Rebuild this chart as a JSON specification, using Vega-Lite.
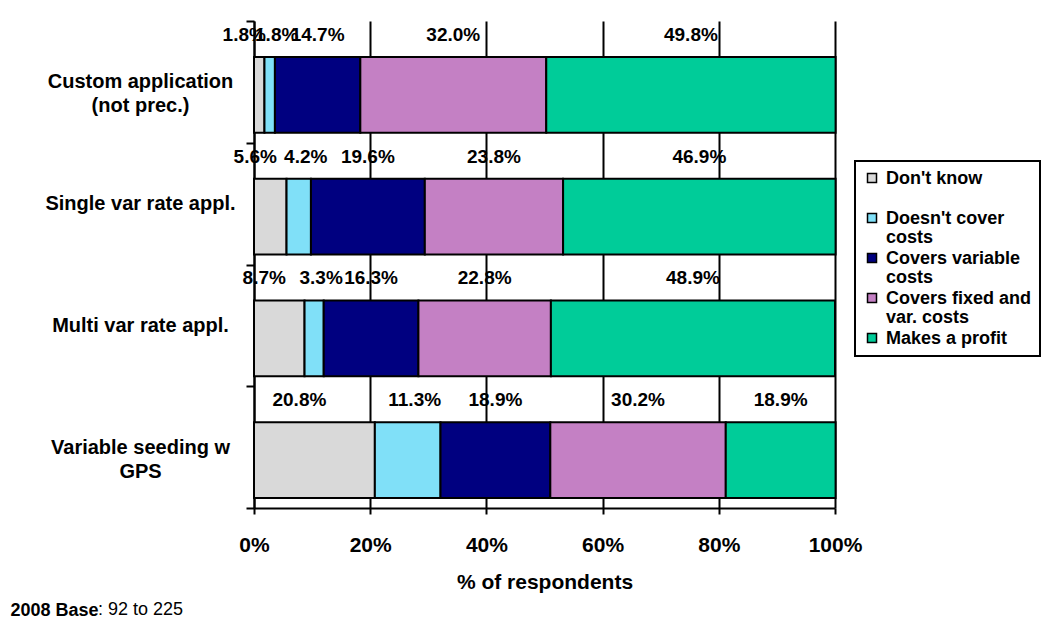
{
  "$schema": "https://vega.github.io/schema/vega-lite/v6.json",
  "width": 581,
  "height": 487,
  "autosize": {"type": "none"},
  "padding": {"left": 254, "top": 21, "right": 225, "bottom": 121},
  "background": "white",
  "data": {
    "values": [
      {"item": "Custom application (not prec.)", "series": "Don't know", "k": 1, "pct": 0.018},
      {"item": "Custom application (not prec.)", "series": "Doesn't cover costs", "k": 2, "pct": 0.018},
      {"item": "Custom application (not prec.)", "series": "Covers variable costs", "k": 3, "pct": 0.147},
      {"item": "Custom application (not prec.)", "series": "Covers fixed and var. costs", "k": 4, "pct": 0.32},
      {"item": "Custom application (not prec.)", "series": "Makes a profit", "k": 5, "pct": 0.498},
      {"item": "Single var rate appl.", "series": "Don't know", "k": 1, "pct": 0.056},
      {"item": "Single var rate appl.", "series": "Doesn't cover costs", "k": 2, "pct": 0.042},
      {"item": "Single var rate appl.", "series": "Covers variable costs", "k": 3, "pct": 0.196},
      {"item": "Single var rate appl.", "series": "Covers fixed and var. costs", "k": 4, "pct": 0.238},
      {"item": "Single var rate appl.", "series": "Makes a profit", "k": 5, "pct": 0.469},
      {"item": "Multi var rate appl.", "series": "Don't know", "k": 1, "pct": 0.087},
      {"item": "Multi var rate appl.", "series": "Doesn't cover costs", "k": 2, "pct": 0.033},
      {"item": "Multi var rate appl.", "series": "Covers variable costs", "k": 3, "pct": 0.163},
      {"item": "Multi var rate appl.", "series": "Covers fixed and var. costs", "k": 4, "pct": 0.228},
      {"item": "Multi var rate appl.", "series": "Makes a profit", "k": 5, "pct": 0.489},
      {"item": "Variable seeding w GPS", "series": "Don't know", "k": 1, "pct": 0.208},
      {"item": "Variable seeding w GPS", "series": "Doesn't cover costs", "k": 2, "pct": 0.113},
      {"item": "Variable seeding w GPS", "series": "Covers variable costs", "k": 3, "pct": 0.189},
      {"item": "Variable seeding w GPS", "series": "Covers fixed and var. costs", "k": 4, "pct": 0.302},
      {"item": "Variable seeding w GPS", "series": "Makes a profit", "k": 5, "pct": 0.189}
    ]
  },
  "transform": [
    {"stack": "pct", "groupby": ["item"], "sort": [{"field": "k", "order": "ascending"}], "as": ["x0", "x1"]}
  ],
  "title": {
    "text": ": 92 to 225",
    "orient": "bottom",
    "anchor": "start",
    "frame": "group",
    "dx": -156,
    "offset": -18,
    "font": "Liberation Sans",
    "fontSize": 18,
    "fontWeight": "normal",
    "color": "black"
  },
  "encoding": {
    "y": {
      "field": "item",
      "type": "nominal",
      "sort": ["Custom application (not prec.)", "Single var rate appl.", "Multi var rate appl.", "Variable seeding w GPS"],
      "scale": {"paddingInner": 0, "paddingOuter": 0},
      "axis": {
        "title": "2008 Base",
        "titleX": -244,
        "titleY": 594,
        "titleAngle": 0,
        "titleAlign": "left",
        "titleBaseline": "alphabetic",
        "titleFont": "Liberation Sans",
        "titleFontSize": 18,
        "titleFontWeight": "bold",
        "titleColor": "black",
        "grid": false,
        "tickBand": "extent",
        "tickSize": 8,
        "tickColor": "black",
        "tickWidth": 2,
        "domainColor": "black",
        "domainWidth": 2,
        "labelFont": "Liberation Sans",
        "labelFontSize": 20,
        "labelFontWeight": "bold",
        "labelColor": "black",
        "labelAlign": "center",
        "labelBaseline": "middle",
        "labelPadding": 106,
        "labelLimit": 300,
        "labelLineHeight": 24,
        "labelExpr": "datum.value == 'Custom application (not prec.)' ? ['Custom application', '(not prec.)'] : datum.value == 'Variable seeding w GPS' ? ['Variable seeding w', 'GPS'] : datum.value"
      }
    }
  },
  "layer": [
    {
      "mark": {"type": "bar", "height": {"band": 0.624}, "yOffset": 13, "stroke": "black", "strokeWidth": 2},
      "encoding": {
        "x": {
          "field": "x0",
          "type": "quantitative",
          "scale": {"domain": [0, 1], "nice": false},
          "axis": {
            "values": [0, 0.2, 0.4, 0.6, 0.8, 1],
            "format": ".0%",
            "grid": true,
            "gridColor": "black",
            "gridWidth": 2,
            "gridOpacity": 1,
            "tickSize": 6,
            "tickColor": "black",
            "tickWidth": 2,
            "domainColor": "black",
            "domainWidth": 2,
            "labelFont": "Liberation Sans",
            "labelFontSize": 21,
            "labelFontWeight": "bold",
            "labelColor": "black",
            "labelPadding": 20,
            "labelFlush": false,
            "title": "% of respondents",
            "titleFont": "Liberation Sans",
            "titleFontSize": 21,
            "titleFontWeight": "bold",
            "titleColor": "black",
            "titlePadding": 16
          }
        },
        "x2": {"field": "x1"},
        "color": {
          "field": "series",
          "type": "nominal",
          "scale": {
            "domain": ["Don't know", "Doesn't cover costs", "Covers variable costs", "Covers fixed and var. costs", "Makes a profit"],
            "range": ["#d9d9d9", "#80e0f8", "#000080", "#c480c4", "#00cc99"]
          },
          "legend": {
            "title": null,
            "orient": "none",
            "legendX": 601,
            "legendY": 140,
            "direction": "vertical",
            "padding": 8,
            "strokeColor": "black",
            "symbolType": "square",
            "symbolSize": 81,
            "symbolStrokeColor": "black",
            "symbolStrokeWidth": 1.5,
            "symbolOpacity": 1,
            "labelFont": "Liberation Sans",
            "labelFontSize": 18,
            "labelFontWeight": "bold",
            "labelColor": "black",
            "labelBaseline": "top",
            "labelOffset": 5,
            "labelLimit": 300,
            "rowPadding": 2,
            "gridAlign": "all",
            "labelExpr": "datum.label == \"Doesn't cover costs\" ? [\"Doesn't cover\", \"costs\"] : datum.label == \"Covers variable costs\" ? [\"Covers variable\", \"costs\"] : datum.label == \"Covers fixed and var. costs\" ? [\"Covers fixed and\", \"var. costs\"] : datum.label",
            "encode": {
              "labels": {"update": {"dy": {"value": -8}, "lineHeight": {"value": 19}}},
              "legend": {"update": {"strokeWidth": {"value": 2}}}
            }
          }
        }
      }
    },
    {
      "transform": [
        {"fold": ["x0", "x1"], "as": ["edge", "pos"]},
        {"aggregate": [{"op": "mean", "field": "pos", "as": "mid"}], "groupby": ["item", "series", "k", "pct"]},
        {"filter": "datum.k == 1"}
      ],
      "mark": {"type": "text", "font": "Liberation Sans", "fontSize": 19, "fontWeight": "bold", "color": "black", "baseline": "middle", "align": "center", "yOffset": -47, "dx": -15},
      "encoding": {
        "x": {"field": "mid", "type": "quantitative"},
        "text": {"field": "pct", "type": "quantitative", "format": ".1%"}
      }
    },
    {
      "transform": [
        {"fold": ["x0", "x1"], "as": ["edge", "pos"]},
        {"aggregate": [{"op": "mean", "field": "pos", "as": "mid"}], "groupby": ["item", "series", "k", "pct"]},
        {"filter": "datum.k == 2"}
      ],
      "mark": {"type": "text", "font": "Liberation Sans", "fontSize": 19, "fontWeight": "bold", "color": "black", "baseline": "middle", "align": "center", "yOffset": -47, "dx": 7},
      "encoding": {
        "x": {"field": "mid", "type": "quantitative"},
        "text": {"field": "pct", "type": "quantitative", "format": ".1%"}
      }
    },
    {
      "transform": [
        {"fold": ["x0", "x1"], "as": ["edge", "pos"]},
        {"aggregate": [{"op": "mean", "field": "pos", "as": "mid"}], "groupby": ["item", "series", "k", "pct"]},
        {"filter": "datum.k >= 3"}
      ],
      "mark": {"type": "text", "font": "Liberation Sans", "fontSize": 19, "fontWeight": "bold", "color": "black", "baseline": "middle", "align": "center", "yOffset": -47},
      "encoding": {
        "x": {"field": "mid", "type": "quantitative"},
        "text": {"field": "pct", "type": "quantitative", "format": ".1%"}
      }
    }
  ],
  "config": {
    "view": {"stroke": null}
  }
}
